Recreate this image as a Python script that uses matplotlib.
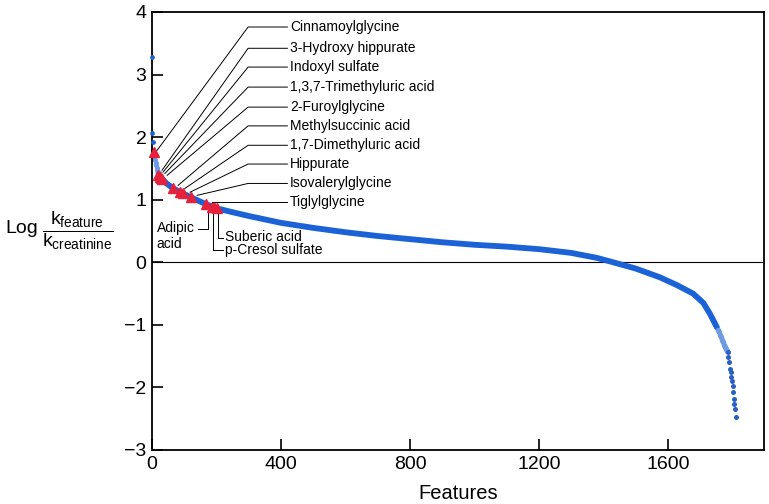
import matplotlib
matplotlib.use("Agg")
import matplotlib.pyplot as plt

plt.rcParams["font.family"] = ["Liberation Sans", "DejaVu Sans"]
plt.rcParams["mathtext.fontset"] = "custom"
plt.rcParams["mathtext.rm"] = "Liberation Sans"
plt.rcParams["axes.unicode_minus"] = True

# outlying top features (rank, log ratio)
top_x = [0, 1, 2]
top_y = [3.28, 2.06, 1.92]

# sparse head of the ranked curve
head_x = [3, 5, 7, 9, 11, 13, 15, 17, 19, 21, 23]
head_y = [1.80, 1.74, 1.68, 1.63, 1.59, 1.55, 1.51, 1.47, 1.44, 1.42, 1.40]

# dense body of the ranked curve
curve_x = [20, 30, 45, 66, 96, 120, 167, 195, 250, 300, 400, 500, 600, 700,
           800, 900, 1000, 1100, 1200, 1300, 1380, 1430, 1500, 1575, 1630,
           1678, 1710, 1730, 1752]
curve_y = [1.42, 1.34, 1.26, 1.18, 1.10, 1.04, 0.93, 0.87, 0.80, 0.74, 0.63,
           0.55, 0.48, 0.42, 0.37, 0.32, 0.28, 0.25, 0.21, 0.15, 0.07, 0.0,
           -0.10, -0.24, -0.37, -0.50, -0.65, -0.82, -1.04]

# lighter section before the tail
fade_x = [1755, 1758, 1761, 1764, 1767, 1770, 1773, 1776, 1779, 1782]
fade_y = [-1.08, -1.12, -1.16, -1.20, -1.24, -1.28, -1.32, -1.36, -1.39, -1.42]

# bottom tail
tail_x = [1785, 1787, 1790, 1792, 1795, 1797, 1799, 1801, 1803, 1805, 1806, 1808, 1810]
tail_y = [-1.44, -1.52, -1.60, -1.70, -1.76, -1.84, -1.89, -1.97, -2.08, -2.18,
          -2.26, -2.34, -2.48]

# highlighted metabolites
hl_x = [5, 20, 24, 28, 32, 66, 88, 96, 120, 167, 185, 193, 203]
hl_y = [1.76, 1.40, 1.37, 1.35, 1.33, 1.18, 1.12, 1.10, 1.04, 0.93, 0.89, 0.88, 0.86]

# labels with leader lines to the upper right
names = ["Cinnamoylglycine", "3-Hydroxy hippurate", "Indoxyl sulfate",
         "1,3,7-Trimethyluric acid", "2-Furoylglycine", "Methylsuccinic acid",
         "1,7-Dimethyluric acid", "Hippurate", "Isovalerylglycine", "Tiglylglycine"]
name_y = [3.76, 3.42, 3.12, 2.80, 2.48, 2.18, 1.87, 1.57, 1.26, 0.96]
end_x = [16, 31, 34, 40, 47, 81, 102, 118, 140, 186]
end_y = [1.79, 1.47, 1.44, 1.42, 1.39, 1.23, 1.18, 1.12, 1.07, 0.96]

blue = "#1a62d6"
light = "#6f9be3"
red = "#e5213b"

fig = plt.figure(figsize=(7.69, 5.04), dpi=100)
ax = fig.add_axes([152 / 769, 54 / 504, 612 / 769, 438 / 504])

ax.axhline(0, color="black", lw=0.8, zorder=1)

ax.plot(curve_x, curve_y, color=blue, lw=4.2, solid_capstyle="round", zorder=2)
ax.scatter(head_x, head_y, s=14, color=light, lw=0, zorder=2, clip_on=False)
ax.scatter(top_x, top_y, s=12, color=blue, lw=0, zorder=3, clip_on=False)
ax.scatter(fade_x, fade_y, s=16, color=light, lw=0, zorder=2)
ax.scatter(tail_x, tail_y, s=13, color="#2a5fc4", lw=0, zorder=2)
ax.plot(hl_x, hl_y, "^", color=red, ms=7.5, mec=red, zorder=4, clip_on=False)

# leader lines + labels
kink_x = 298
text_x = 428
for i, name in enumerate(names):
    if i < len(names) - 1:
        ax.plot([end_x[i], kink_x, text_x - 8], [end_y[i], name_y[i], name_y[i]],
                color="black", lw=0.7, zorder=5)
    else:
        ax.plot([end_x[i], text_x - 8], [end_y[i], name_y[i]],
                color="black", lw=0.7, zorder=5)
    ax.text(text_x, name_y[i], name, fontsize=10, va="center", ha="left")

# labels below the curve
ax.plot([174, 174, 143], [0.86, 0.53, 0.53], color="black", lw=0.7)
ax.text(15, 0.42, "Adipic\nacid", fontsize=10, va="center", ha="left",
        linespacing=1.2)
ax.plot([205, 205, 220], [0.85, 0.39, 0.39], color="black", lw=0.7)
ax.text(226, 0.40, "Suberic acid", fontsize=10, va="center", ha="left")
ax.plot([189, 189, 220], [0.86, 0.19, 0.19], color="black", lw=0.7)
ax.text(226, 0.19, "p-Cresol sulfate", fontsize=10, va="center", ha="left")

ax.set_xlim(0, 1898)
ax.set_ylim(-3, 4)
ax.set_xticks([0, 400, 800, 1200, 1600])
ax.set_yticks(range(-3, 5))
ax.tick_params(direction="in", length=8, width=1.2, labelsize=14, pad=4)
for s in ax.spines.values():
    s.set_linewidth(1.3)
ax.set_xlabel("Features", fontsize=14.5, labelpad=8.5)

fig.text(5 / 769, 1 - 229 / 504, "Log", fontsize=14, va="center", ha="left")
fig.text(42 / 769, 1 - 231 / 504,
         r"$\dfrac{\mathrm{k}_{\mathrm{feature}}}{\mathrm{k}_{\mathrm{creatinine}}}$",
         fontsize=14, va="center", ha="left")

fig.savefig("out.png", dpi=100)
plt.close(fig)
